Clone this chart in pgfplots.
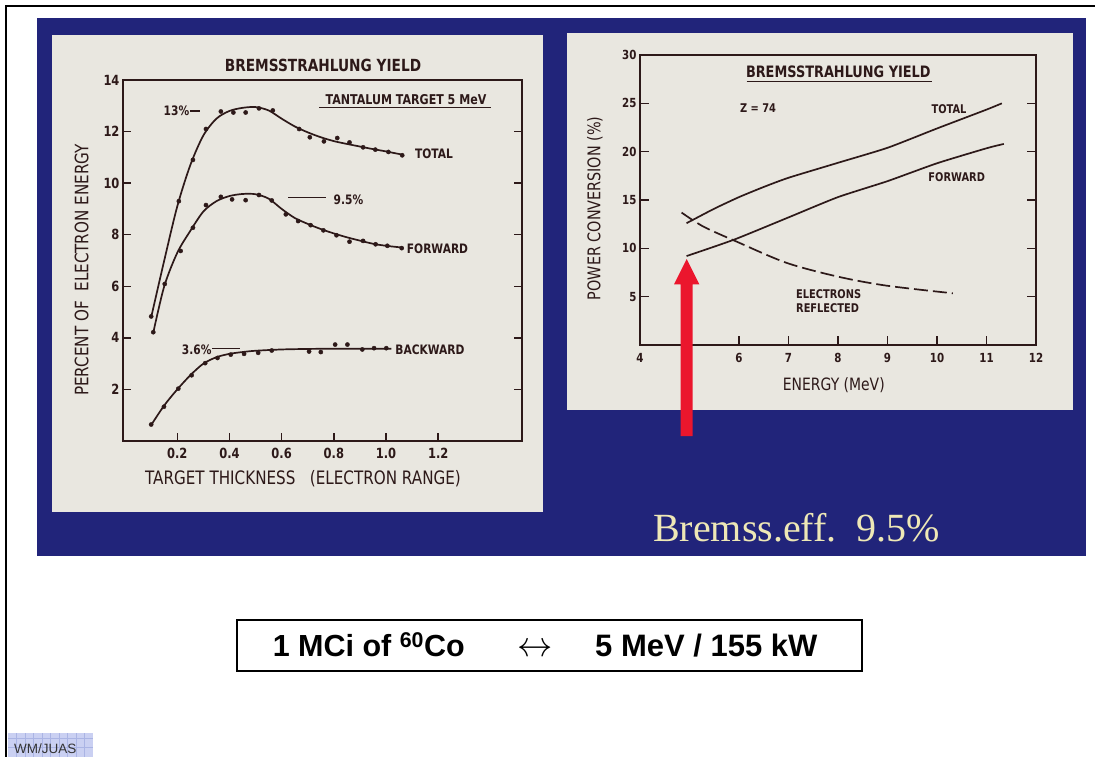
\documentclass[border=0pt]{standalone}
\usepackage{pgfplots}
\pgfplotsset{compat=1.18}
\usepackage{fontspec}
\setmainfont{Liberation Sans}
\newfontfamily\lett{DejaVu Sans}[FakeStretch=0.82]
\newfontfamily\timesf{Liberation Serif}
\newfontfamily\arial{Liberation Sans}
\definecolor{navy}{RGB}{33,36,122}
\definecolor{cream}{RGB}{233,231,224}
\definecolor{ink}{RGB}{45,25,25}
\definecolor{arrowred}{RGB}{235,22,45}
\definecolor{pale}{RGB}{238,232,182}
\definecolor{gridblue}{RGB}{202,208,242}
\definecolor{gridline}{RGB}{170,180,228}
\newcommand{\fs}[1]{\fontsize{#1bp}{#1bp}\selectfont}
\begin{document}
\begin{tikzpicture}
\useasboundingbox (0,0) rectangle (1095bp,-757bp);
\begin{scope}[x=1bp,y=-1bp]
\fill[white] (0,0) rectangle (1095,757);
\fill[navy] (37,18) rectangle (1086,556);
\fill[cream] (52,35) rectangle (543,512);
\fill[cream] (567,33) rectangle (1073,410);
\draw[line width=2.5bp] (6,757) -- (6,6) -- (1095,6);
% WM/JUAS badge
\fill[gridblue] (8,733) rectangle (93,757);
\foreach \gx in {16.5,25,33.5,42,50.5,59,67.5,76,84.5} {\draw[gridline,line width=0.5bp] (\gx,733) -- (\gx,757);}
\foreach \gy in {738.5,747} {\draw[gridline,line width=0.5bp] (8,\gy) -- (93,\gy);}
\node[anchor=base west,inner sep=0,text=black!80] at (14,753) {\arial\fs{13.5}WM/JUAS};
% formula box
\draw[line width=1.4bp] (237,620) rectangle (862,671);
\node[anchor=base west,inner sep=0] at (272.6,656.5) {\arial\bfseries\fs{30.5}1 MCi of \textsuperscript{60}Co};
\node[anchor=base,inner sep=0] at (535,656.5) {\scalebox{2.05}{\fs{16}$\leftrightarrow$}};
\node[anchor=base west,inner sep=0] at (595,656.5) {\arial\bfseries\fs{31}5 MeV / 155 kW};
% Bremss text
\node[anchor=base west,inner sep=0,text=pale] at (653,541.7) {\timesf\fs{40}Bremss.eff.\ \ 9.5\%};
\end{scope}

% ---------------- left chart ----------------
\begin{axis}[at={(123bp,-441bp)}, anchor=south west, scale only axis,
  width=399bp, height=361bp,
  xmin=-0.008, xmax=1.521, ymin=0, ymax=14,
  axis line style={ink, line width=1.6bp},
  xtick={0.2,0.4,0.6,0.8,1.0,1.2}, xticklabels={0.2,0.4,0.6,0.8,1.0,1.2},
  ytick={2,4,6,8,10,12,14}, yticklabels={2,4,6,8,10,12,14},
  tick align=inside, xtick pos=left, ytick pos=both,
  major tick length=8bp,
  tick style={ink, line width=1.5bp},
  tick label style={font=\lett\bfseries\fs{14}, text=ink},
  xticklabel style={yshift=-4bp},
  clip=false]
% TOTAL
\addplot[ink, line width=1.7bp, smooth, tension=0.5] coordinates {
 (0.10,4.8) (0.15,7.0) (0.20,9.1) (0.25,10.7) (0.30,11.85) (0.35,12.5) (0.40,12.8)
 (0.45,12.92) (0.50,12.95) (0.55,12.82) (0.60,12.5) (0.65,12.2) (0.70,11.97)
 (0.75,11.78) (0.80,11.63) (0.85,11.52) (0.90,11.42) (0.95,11.32) (1.00,11.23) (1.065,11.1)};
\addplot[only marks, mark=*, mark size=2.1bp, ink] coordinates {
 (0.10,4.83) (0.206,9.3) (0.26,10.9) (0.31,12.1) (0.367,12.78) (0.415,12.74) (0.462,12.74)
 (0.513,12.9) (0.566,12.82) (0.667,12.1) (0.708,11.78) (0.762,11.62) (0.813,11.75)
 (0.86,11.58) (0.912,11.39) (0.959,11.30) (1.009,11.21) (1.062,11.08)};
% FORWARD
\addplot[ink, line width=1.7bp, smooth, tension=0.5] coordinates {
 (0.108,4.2) (0.15,6.0) (0.20,7.3) (0.25,8.15) (0.30,8.9) (0.35,9.3) (0.40,9.5)
 (0.45,9.58) (0.50,9.57) (0.55,9.4) (0.60,9.0) (0.65,8.65) (0.70,8.42) (0.75,8.22)
 (0.80,8.05) (0.85,7.9) (0.90,7.77) (0.95,7.65) (1.00,7.57) (1.065,7.5)};
\addplot[only marks, mark=*, mark size=2.1bp, ink] coordinates {
 (0.108,4.22) (0.152,6.09) (0.213,7.37) (0.26,8.27) (0.31,9.15) (0.367,9.47) (0.41,9.37)
 (0.462,9.34) (0.513,9.54) (0.562,9.33) (0.616,8.79) (0.663,8.53) (0.711,8.37)
 (0.76,8.17) (0.81,7.98) (0.86,7.73) (0.912,7.76) (0.96,7.63) (1.005,7.57) (1.06,7.48)};
% BACKWARD
\addplot[ink, line width=1.7bp, smooth, tension=0.5] coordinates {
 (0.10,0.62) (0.15,1.38) (0.20,2.0) (0.25,2.55) (0.30,3.0) (0.35,3.25) (0.40,3.38)
 (0.45,3.45) (0.50,3.5) (0.60,3.55) (0.70,3.57) (0.80,3.58) (0.90,3.58) (1.02,3.58)};
\addplot[only marks, mark=*, mark size=2.1bp, ink] coordinates {
 (0.10,0.64) (0.149,1.33) (0.204,2.03) (0.255,2.55) (0.307,3.02) (0.354,3.22) (0.405,3.35)
 (0.456,3.38) (0.51,3.42) (0.562,3.51) (0.705,3.47) (0.75,3.45) (0.805,3.74)
 (0.852,3.74) (0.909,3.55) (0.954,3.60) (1.001,3.60)};
\end{axis}

% ---------------- right chart ----------------
\begin{axis}[at={(640bp,-345bp)}, anchor=south west, scale only axis,
  width=396bp, height=290bp,
  xmin=4, xmax=12, ymin=0, ymax=30,
  axis line style={ink, line width=1.6bp},
  xtick={4,5,6,7,8,9,10,11,12}, xticklabels={4,,6,7,8,9,10,11,12},
  ytick={5,10,15,20,25,30}, yticklabels={5,10,15,20,25,30},
  tick align=inside, xtick pos=left, ytick pos=both,
  major tick length=9bp,
  tick style={ink, line width=1.5bp},
  tick label style={font=\lett\bfseries\fs{12.5}, text=ink},
  xticklabel style={yshift=-5bp},
  clip=false]
\addplot[ink, line width=1.7bp, smooth, tension=0.35] coordinates {
 (4.94,12.6) (5.5,14.1) (6.0,15.3) (6.5,16.35) (7.0,17.3) (8.0,18.85) (9.0,20.4) (10.0,22.4) (11.0,24.35) (11.31,25.0)};
\addplot[ink, line width=1.7bp, smooth, tension=0.35] coordinates {
 (4.94,9.2) (5.9,10.9) (7.0,13.2) (8.0,15.3) (9.0,16.95) (10.0,18.8) (11.0,20.35) (11.35,20.8)};
\addplot[ink, line width=1.7bp, smooth, tension=0.5, dash pattern=on 14bp off 5bp] coordinates {
 (4.84,13.7) (5.28,12.25) (5.95,10.7) (6.96,8.5) (8.0,7.07) (8.98,6.14) (10.32,5.35)};
\end{axis}

% ---------------- annotations ----------------
\begin{scope}[x=1bp,y=-1bp, every node/.style={text=ink, inner sep=0}]
% left
\node at (323,65) {\lett\bfseries\fs{16.7}BREMSSTRAHLUNG YIELD};
\node at (406,99.3) {\lett\bfseries\fs{13.5}TANTALUM TARGET 5 MeV};
\draw[ink, line width=1.3bp] (319.3,107.7) -- (490.7,107.7);
\node at (176.5,111) {\lett\bfseries\fs{13}13\%};
\draw[ink, line width=1.2bp] (190,111) -- (200,111);
\node at (348.5,199.3) {\lett\bfseries\fs{13}9.5\%};
\draw[ink, line width=1.2bp] (288.3,197.7) -- (326,197.7);
\node at (196.7,349.3) {\lett\bfseries\fs{13}3.6\%};
\draw[ink, line width=1.2bp] (212.3,348.3) -- (240,348.3);
\node at (434,153.3) {\lett\bfseries\fs{13}TOTAL};
\node at (437.5,248.3) {\lett\bfseries\fs{13}FORWARD};
\node at (430,350) {\lett\bfseries\fs{13}BACKWARD};
\node at (303,478.3) {\lett\fs{18.5}TARGET THICKNESS\ \ \ (ELECTRON RANGE)};
\node[rotate=90] at (81.7,270) {\lett\fs{18.5}PERCENT OF\ \ ELECTRON ENERGY};
% right
\node at (838.3,71.7) {\lett\bfseries\fs{15.7}BREMSSTRAHLUNG YIELD};
\draw[ink, line width=1.3bp] (746.7,81.7) -- (931.7,81.7);
\node at (758,108.3) {\lett\bfseries\fs{12}Z = 74};
\node at (949,109) {\lett\bfseries\fs{12}TOTAL};
\node at (956.7,176.7) {\lett\bfseries\fs{12}FORWARD};
\node[anchor=west] at (796,294) {\lett\bfseries\fs{12}ELECTRONS};
\node[anchor=west] at (796,308.3) {\lett\bfseries\fs{12}REFLECTED};
\node at (833.8,385) {\lett\fs{17}ENERGY (MeV)};
\node[rotate=90] at (595,208.3) {\lett\fs{17.5}POWER CONVERSION (\%)};
% red arrow
\fill[arrowred] (680.7,436) -- (680.7,284.3) -- (674,284.3) -- (686.7,259) -- (699.3,284.3) -- (692.7,284.3) -- (692.7,436) -- cycle;
\end{scope}
\end{tikzpicture}
\end{document}
